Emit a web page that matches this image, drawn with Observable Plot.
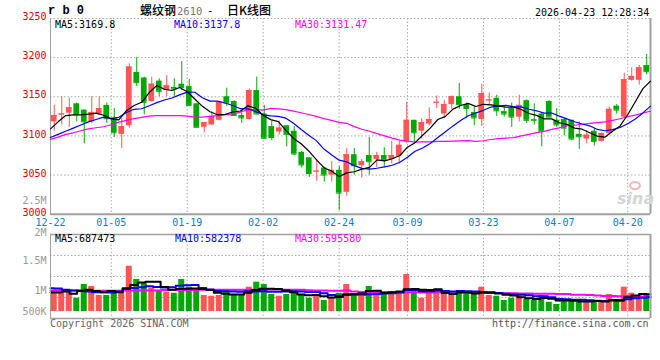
<!DOCTYPE html>
<html><head><meta charset="utf-8">
<script src="https://cdn.jsdelivr.net/npm/d3@7"></script>
<script src="https://cdn.jsdelivr.net/npm/@observablehq/plot@0.6"></script>
<style>
html,body{margin:0;padding:0;background:#fff;}
#chart{position:relative;width:660px;height:360px;overflow:hidden;background:#fff;}
#chart svg{position:absolute;left:0;top:0;overflow:visible;}
.lbl{position:absolute;white-space:nowrap;font-family:"DejaVu Sans Mono",monospace;font-size:10px;line-height:10px;}
</style></head>
<body><div id="chart"></div>
<script>
// ---------- data ----------
const dates = ["12-22","12-23","12-24","12-25","12-26","12-29","12-30","12-31",
"01-05","01-06","01-07","01-08","01-09","01-12","01-13","01-14","01-15","01-16",
"01-19","01-20","01-21","01-22","01-23","01-26","01-27","01-28","01-29","01-30",
"02-02","02-03","02-04","02-05","02-06","02-09","02-10","02-11","02-12","02-13",
"02-24","02-25","02-26","02-27","03-02","03-03","03-04","03-05","03-06",
"03-09","03-10","03-11","03-12","03-13","03-16","03-17","03-18","03-19","03-20",
"03-23","03-24","03-25","03-26","03-27","03-30","03-31","04-01","04-02","04-03",
"04-07","04-08","04-09","04-10","04-13","04-14","04-15","04-16","04-17",
"04-20","04-21","04-22","04-23"];
const open  = [3118,3127,3129,3141,3133,3118,3128,3139,3123,3102,3113,3181,3174,3144,3170,3158,3162,3166,3163,3141,3111,3114,3120,3150,3144,3126,3121,3158,3128,3112,3105,3113,3106,3079,3072,3054,3059,3050,3056,3028,3076,3062,3075,3070,3075,3070,3074,3092,3120,3106,3115,3142,3128,3140,3150,3140,3130,3121,3145,3148,3131,3135,3124,3145,3121,3128,3144,3120,3121,3120,3102,3096,3106,3093,3103,3138,3124,3171,3171,3190];
const high  = [3139,3150,3148,3142,3133,3150,3150,3142,3135,3122,3192,3200,3175,3175,3173,3177,3173,3195,3172,3141,3117,3131,3144,3161,3145,3133,3160,3175,3139,3119,3119,3113,3112,3080,3072,3070,3060,3067,3061,3084,3084,3070,3098,3079,3085,3093,3093,3143,3120,3122,3136,3151,3145,3151,3167,3142,3137,3166,3155,3152,3137,3142,3152,3146,3141,3130,3145,3135,3122,3120,3118,3107,3109,3104,3137,3140,3180,3187,3190,3204];
const low   = [3106,3114,3111,3118,3090,3116,3126,3116,3098,3084,3110,3163,3127,3143,3150,3150,3150,3158,3139,3111,3104,3113,3119,3138,3126,3116,3120,3127,3096,3094,3101,3086,3075,3059,3047,3042,3041,3041,3005,3023,3050,3046,3050,3059,3060,3064,3064,3090,3091,3096,3113,3135,3122,3134,3134,3122,3113,3112,3139,3125,3124,3111,3118,3116,3114,3086,3124,3111,3100,3094,3083,3090,3087,3092,3101,3128,3123,3170,3165,3178];
const close = [3126,3128,3136,3127,3118,3130,3135,3122,3104,3112,3188,3168,3143,3166,3157,3164,3160,3162,3139,3111,3117,3125,3143,3142,3126,3123,3158,3128,3097,3098,3110,3102,3077,3063,3052,3055,3050,3056,3027,3076,3062,3067,3067,3075,3070,3075,3088,3120,3104,3117,3121,3143,3140,3150,3140,3135,3123,3154,3146,3132,3128,3124,3139,3120,3120,3106,3124,3114,3110,3096,3099,3101,3093,3103,3134,3133,3172,3176,3187,3182];
const volume = [992000,1020000,1020000,880000,1108000,1075000,925000,925000,970000,997000,1413000,1192000,1130000,1047000,992000,980000,963000,1192000,1063000,1020000,925000,913000,925000,997000,942000,925000,1063000,1147000,1108000,942000,913000,942000,992000,925000,880000,925000,842000,880000,963000,1108000,942000,908000,1075000,980000,942000,992000,963000,1275000,997000,880000,963000,1025000,963000,925000,1008000,942000,953000,1063000,925000,913000,842000,880000,913000,858000,842000,925000,813000,775000,853000,830000,853000,813000,813000,813000,942000,853000,1063000,963000,925000,925000];
const ma5Head  = [3109,3118,3126,3127];
const ma10Head = [3098,3102,3106,3110,3114,3118,3121,3124,3122];
const ma30Head = [3095.5,3098.5,3102,3104,3106.6,3109,3110.4,3111.7,3114.3,3117.7,3119.8,3122,3123.6,3125.4,3126,3126,3126,3126,3125.4,3124,3124,3125,3126,3127,3128,3130.5,3133.5,3133.5,3133];
const vma5Head  = [975000,975000,990000,955000];
const vma10Head = [1047000,1040000,1020000,1010000,1000000,990000,980000,975000,975000];
const vma30Head = [1010000,1010000,1010000,1010000,1010000,1005000,1005000,1005000,1005000,1005000,1010000,1010000,1010000,1010000,1010000,1015000,1015000,1015000,1015000,1015000,1020000,1020000,1020000,1020000,1020000,1020000,1020000,1020000,1020000];
const priceTicks = [3000,3050,3100,3150,3200,3250];
const volTicks = [500000,1000000,1500000,2000000,2500000];
const volTickText = ["500K","1M","1.5M","2M","2.5M"];
const dateTicks = ["12-22","01-05","01-19","02-02","02-24","03-09","03-23","04-07","04-20"];
const priceMaText = ["MA5:3169.8","MA10:3137.8","MA30:3131.47"];
const volMaText = ["MA5:687473","MA10:582378","MA30:595580"];

// ---------- helpers ----------
const N = dates.length;
const idx = d3.range(N);
const movAvg = (arr, n, head) => arr.map((_, i) => i < n - 1 ? head[i] : d3.mean(arr.slice(i - n + 1, i + 1)));
const ma5 = movAvg(close, 5, ma5Head), ma10 = movAvg(close, 10, ma10Head), ma30 = movAvg(close, 30, ma30Head);
const vma5 = movAvg(volume, 5, vma5Head), vma10 = movAvg(volume, 10, vma10Head), vma30 = movAvg(volume, 30, vma30Head);
const UP = "#ff5555", DOWN = "#00a800";
const col = i => close[i] >= open[i] ? UP : DOWN;
const xC = i => i + 0.5;
const xL = i => i * N / (N - 1);
const tickIdx = dateTicks.map(d => dates.indexOf(d));
const FONT = "DejaVu Sans Mono";
const GRID = {stroke: "#aaaaaa", strokeDasharray: "1.5,2"};
const FRAME = "#a0a0a0";

const chart = document.getElementById("chart");

// ---------- price panel ----------
const mainSvg = Plot.plot({
  width: 660, height: 230,
  marginLeft: 50, marginRight: 10, marginTop: 18, marginBottom: 16.3,
  x: {domain: [0, N], axis: null},
  y: {domain: [3000, 3250], axis: null},
  color: {type: "identity"},
  style: {background: "transparent", overflow: "visible"},
  marks: [
    Plot.ruleY(priceTicks.slice(1), GRID),
    Plot.ruleX(tickIdx.slice(1), {x: xL, ...GRID}),
    Plot.ruleX([0, N], {stroke: FRAME}),
    Plot.ruleX([N], {stroke: FRAME, strokeWidth: 2}),
    Plot.ruleY([3000], {stroke: FRAME, strokeWidth: 2}),
    Plot.ruleX(idx, {x: xC, y1: low, y2: high, stroke: col}),
    Plot.rect(idx, {x1: i => i + 0.12, x2: i => i + 0.88,
      y1: i => Math.min(open[i], close[i]), y2: i => Math.max(open[i], close[i]), fill: col}),
    Plot.ruleY(idx, {x1: i => i + 0.12, x2: i => i + 0.88, y: close, stroke: col}),
    Plot.line(idx, {x: xL, y: ma30, stroke: "#ff00ff", strokeWidth: 1.2}),
    Plot.line(idx, {x: xL, y: ma10, stroke: "#0000ff", strokeWidth: 1.2}),
    Plot.line(idx, {x: xL, y: ma5, stroke: "#000000", strokeWidth: 1.2}),
    Plot.text(priceTicks, {x: d => 0, y: d => d, text: d => String(d), textAnchor: "end", dx: -4, dy: -1.5,
      fill: "#e00000", fontFamily: FONT, fontSize: 10}),
    Plot.text(dateTicks, {x: (d, i) => xL(tickIdx[i]), y: d => 3000, text: d => d, dy: 8.3,
      fill: "#0a80d0", fontFamily: FONT, fontSize: 10})
  ]
});
chart.appendChild(mainSvg);

// ---------- volume panel ----------
const vLo = 541700, vHi = 1941700, VB = 658000;
const volLabelText = {x: d => 0, y: d => Math.max(d, VB), text: d => volTickText[volTicks.indexOf(d)],
  textAnchor: "end", dx: -4, fill: "#999999", fontFamily: FONT, fontSize: 10};
const volSvg = Plot.plot({
  width: 660, height: 360,
  marginLeft: 50, marginRight: 10, marginTop: 234, marginBottom: 42,
  x: {domain: [0, N], axis: null},
  y: {domain: [vLo, vHi], axis: null},
  color: {type: "identity"},
  style: {background: "transparent", overflow: "visible"},
  marks: [
    Plot.ruleY([1, 2, 3].map(k => vLo + k * (vHi - vLo) / 4), GRID),
    Plot.ruleX(tickIdx.slice(1), {x: xL, ...GRID}),
    Plot.rect(idx, {x1: i => i + 0.1, x2: i => i + 0.9, y1: i => VB, y2: volume, fill: col}),
    Plot.line(idx, {x: xL, y: vma30, stroke: "#ff00ff", strokeWidth: 2, curve: "step"}),
    Plot.line(idx, {x: xL, y: vma10, stroke: "#0000ff", strokeWidth: 2, curve: "step"}),
    Plot.line(idx, {x: xL, y: vma5, stroke: "#000000", strokeWidth: 2, curve: "step"}),
    Plot.ruleY([vLo, vHi], {stroke: FRAME, strokeWidth: 1.5}),
    Plot.ruleX([0], {stroke: FRAME}),
    Plot.ruleX([N], {stroke: FRAME, strokeWidth: 2}),
    Plot.text(volTicks.filter(d => d !== 2000000), volLabelText),
    Plot.text(volTicks.filter(d => d === 2000000), {...volLabelText, dy: 1.5})
  ]
});
chart.appendChild(volSvg);

// ---------- text overlays ----------
function label(text, left, top, css) {
  const d = document.createElement("div");
  d.className = "lbl";
  d.textContent = text;
  d.style.left = left + "px";
  d.style.top = top + "px";
  Object.assign(d.style, css || {});
  chart.appendChild(d);
  return d;
}
label("r b 0", 48, 5, {fontFamily: '"Liberation Mono", monospace', fontWeight: "bold", fontSize: "12px", lineHeight: "12px"});
const cjk = {fontFamily: '"Noto Sans CJK SC", sans-serif', fontSize: "12px", lineHeight: "12px", fontWeight: "500"};
label("螺纹钢", 140, 4, cjk);
label("2610", 177, 6, {color: "#777", fontSize: "10.5px"});
label("-", 207, 6, {fontSize: "11px"});
label("日K线图", 227, 4, cjk);
label("2026-04-23 12:28:34", 535, 7.5, {color: "#000"});
[[priceMaText[0], 55, "#000"], [priceMaText[1], 174, "#0000ff"], [priceMaText[2], 295, "#ff00ff"]]
  .forEach(([t, x, c]) => label(t, x, 19.5, {color: c}));
[[volMaText[0], 55, "#000"], [volMaText[1], 175, "#0000ff"], [volMaText[2], 295, "#ff00ff"]]
  .forEach(([t, x, c]) => label(t, x, 233.5, {color: c}));
label("Copyright 2026 SINA.COM", 50, 318.5, {color: "#666"});
label("http://finance.sina.com.cn", 492, 318.5, {color: "#555"});
// sina watermark
const eye = document.createElement("div");
Object.assign(eye.style, {position: "absolute", left: "629px", top: "181px", width: "12px", height: "9px",
  borderRadius: "50%", border: "2px solid #f2b8b8", boxSizing: "border-box"});
chart.appendChild(eye);
label("sina", 617, 191, {fontFamily: '"DejaVu Sans", sans-serif', fontStyle: "italic", fontWeight: "bold",
  fontSize: "16px", lineHeight: "16px", color: "#d4d4d4"});
</script></body></html>
